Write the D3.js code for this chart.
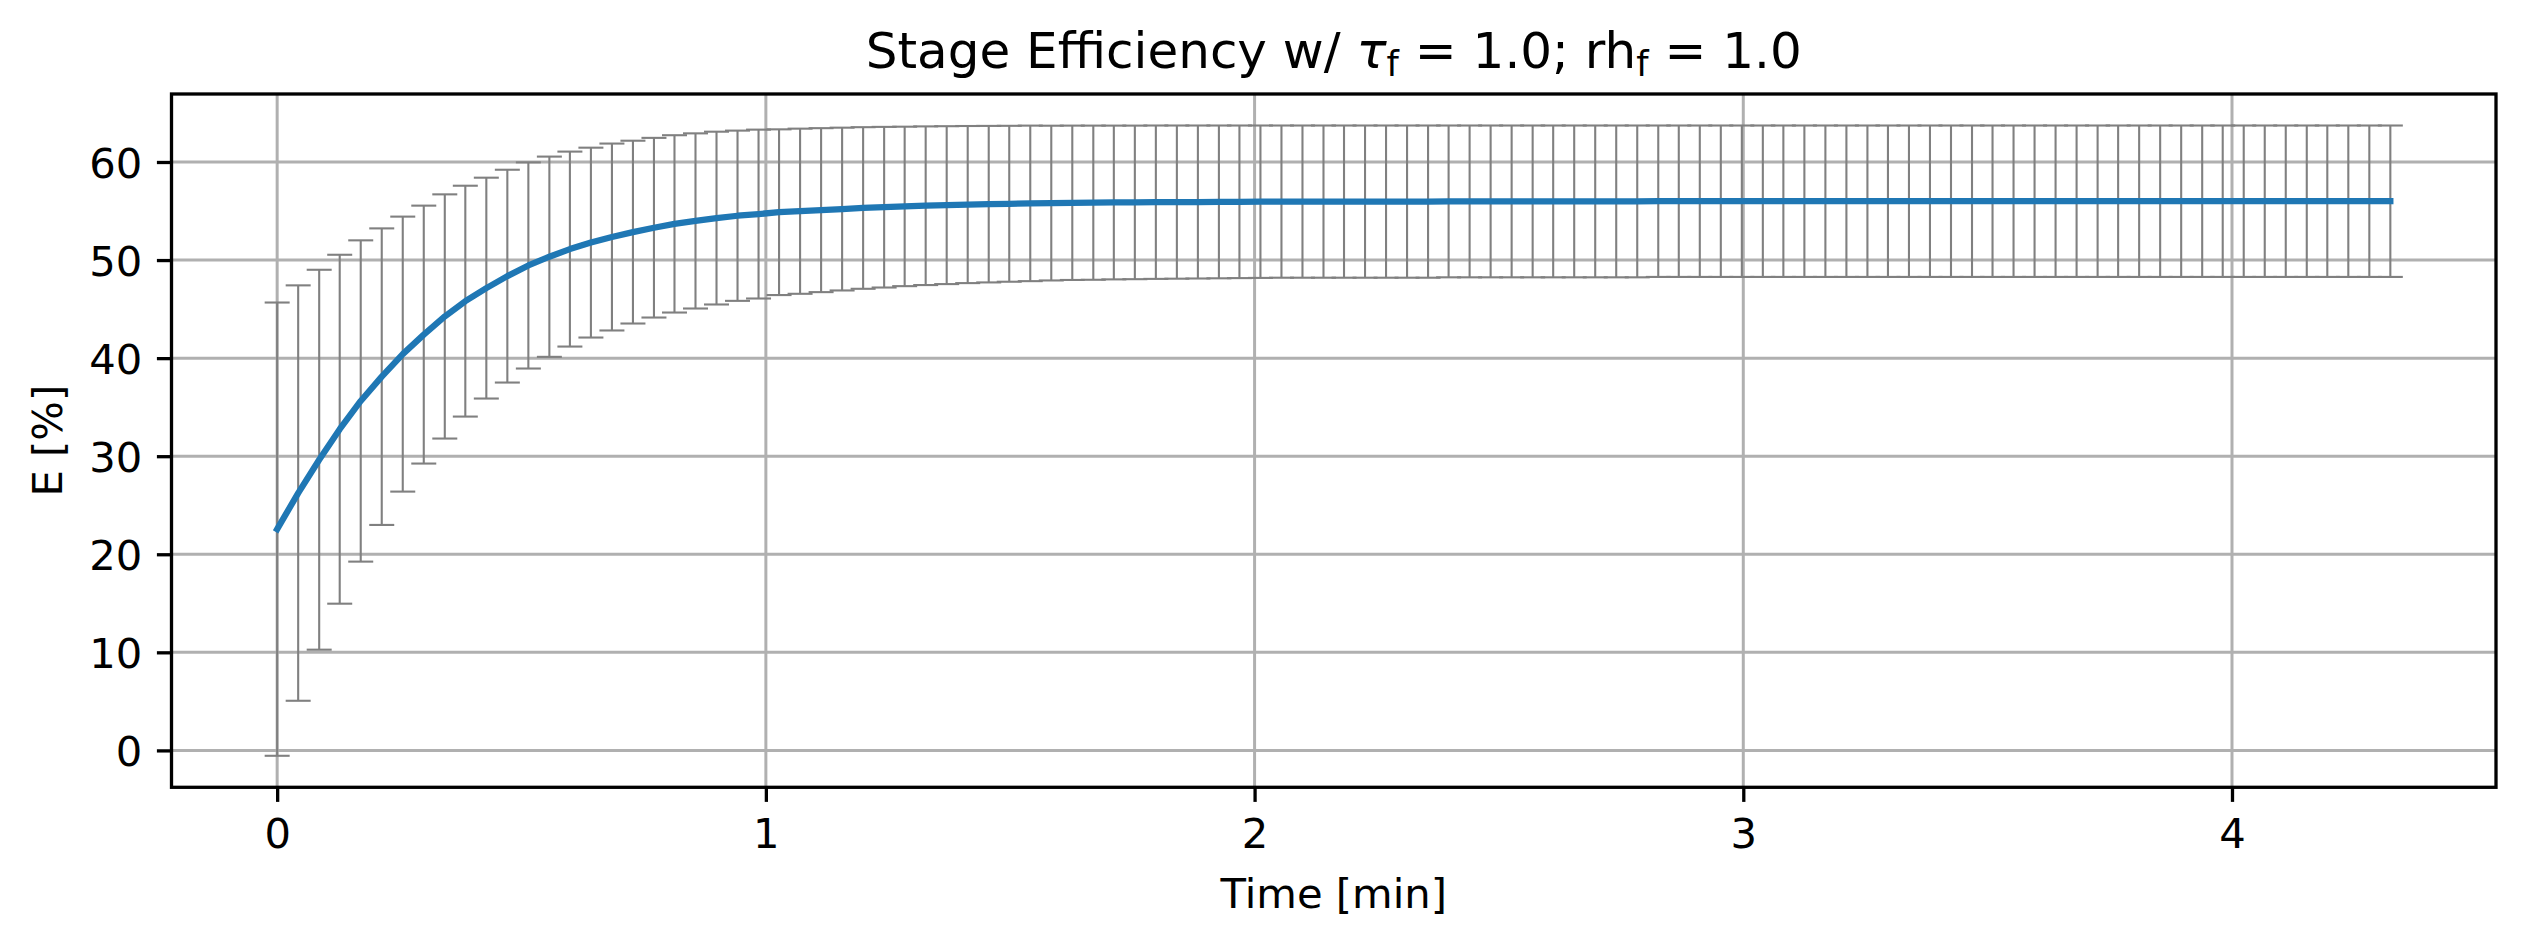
<!DOCTYPE html>
<html lang="en">
<head>
  <meta charset="utf-8">
  <title>Stage Efficiency</title>
  <script src="https://cdn.jsdelivr.net/npm/d3@7"></script>
  <style>
    body { margin: 0; background: #fff; }
    text { font-family: "DejaVu Sans", sans-serif; fill: #000; }
  </style>
</head>
<body>
  <div id="chart"></div>
  <script>
    // time points [min] of each error bar
    var time = [0, 0.043, 0.086, 0.128, 0.171, 0.214, 0.257, 0.300, 0.343, 0.385,
      0.428, 0.471, 0.514, 0.557, 0.599, 0.642, 0.685, 0.728, 0.771, 0.813,
      0.856, 0.899, 0.942, 0.985, 1.027, 1.070, 1.113, 1.156, 1.199, 1.242,
      1.284, 1.327, 1.370, 1.413, 1.456, 1.498, 1.541, 1.584, 1.627, 1.670,
      1.712, 1.755, 1.798, 1.841, 1.884, 1.927, 1.969, 2.012, 2.055, 2.098,
      2.141, 2.183, 2.226, 2.269, 2.312, 2.355, 2.397, 2.440, 2.483, 2.526,
      2.569, 2.611, 2.654, 2.697, 2.740, 2.783, 2.826, 2.868, 2.911, 2.954,
      2.997, 3.040, 3.082, 3.125, 3.168, 3.211, 3.254, 3.296, 3.339, 3.382,
      3.425, 3.468, 3.510, 3.553, 3.596, 3.639, 3.682, 3.725, 3.767, 3.810,
      3.853, 3.896, 3.939, 3.981, 4.024, 4.067, 4.110, 4.153, 4.195, 4.238,
      4.281, 4.324];

    // stage efficiency E [%]
    var efficiency = [22.56, 26.24, 29.64, 32.75, 35.63, 38.11, 40.41, 42.40, 44.25, 45.81,
      47.14, 48.36, 49.45, 50.34, 51.12, 51.78, 52.35, 52.85, 53.30, 53.69,
      53.99, 54.28, 54.52, 54.69, 54.88, 54.98, 55.09, 55.20, 55.31, 55.39,
      55.47, 55.54, 55.60, 55.66, 55.70, 55.74, 55.78, 55.81, 55.84, 55.85,
      55.87, 55.88, 55.90, 55.91, 55.92, 55.93, 55.94, 55.95, 55.96, 55.96,
      55.96, 55.96, 55.96, 55.96, 55.96, 55.96, 55.98, 55.98, 55.98, 55.98,
      55.98, 55.98, 55.98, 55.98, 55.98, 55.98, 56.00, 56.00, 56.00, 56.00,
      56.00, 56.00, 56.00, 56.00, 56.00, 56.00, 56.00, 56.00, 56.00, 56.00,
      56.00, 56.00, 56.00, 56.00, 56.00, 56.00, 56.00, 56.00, 56.00, 56.00,
      56.00, 56.00, 56.00, 56.00, 56.00, 56.00, 56.00, 56.00, 56.00, 56.00,
      56.00, 56.00];

    // half width of the error bars
    var errors = [23.11, 21.18, 19.37, 17.79, 16.38, 15.12, 14.02, 13.15, 12.45, 11.77,
      11.26, 10.85, 10.51, 10.21, 9.94, 9.68, 9.53, 9.32, 9.16, 9.04,
      8.93, 8.81, 8.68, 8.61, 8.45, 8.42, 8.36, 8.30, 8.24, 8.19,
      8.13, 8.09, 8.05, 8.01, 7.98, 7.95, 7.93, 7.89, 7.87, 7.86,
      7.84, 7.83, 7.82, 7.81, 7.80, 7.79, 7.78, 7.77, 7.76, 7.76,
      7.76, 7.76, 7.76, 7.76, 7.76, 7.76, 7.74, 7.74, 7.74, 7.74,
      7.74, 7.74, 7.74, 7.74, 7.74, 7.74, 7.72, 7.72, 7.72, 7.72,
      7.72, 7.72, 7.72, 7.72, 7.72, 7.72, 7.72, 7.72, 7.72, 7.72,
      7.72, 7.72, 7.72, 7.72, 7.72, 7.72, 7.72, 7.72, 7.72, 7.72,
      7.72, 7.72, 7.72, 7.72, 7.72, 7.72, 7.72, 7.72, 7.72, 7.72,
      7.72, 7.72];

    var xTicks = [0, 1, 2, 3, 4];
    var yTicks = [0, 10, 20, 30, 40, 50, 60];

    var w = 2525;
    var h = 947;
    // plot area edges (px)
    var axLeft = 171.5, axRight = 2496, axTop = 94, axBottom = 787.3;
    var tickLen = 14.6;

    var dataset = time.map(function(t, i) {
      return { t: t, e: efficiency[i], err: errors[i] };
    });

    // matplotlib style 5% margins
    var xExt = d3.extent(time);
    var xPad = 0.05 * (xExt[1] - xExt[0]);
    var yMin = d3.min(dataset, (d) => d.e - d.err);
    var yMax = d3.max(dataset, (d) => d.e + d.err);
    var yPad = 0.05 * (yMax - yMin);

    var xScale = d3.scaleLinear().domain([xExt[0] - xPad, xExt[1] + xPad]).range([axLeft, axRight]);
    var yScale = d3.scaleLinear().domain([yMin - yPad, yMax + yPad]).range([axBottom, axTop]);

    var svg = d3.select("#chart").append("svg")
      .attr("width", w)
      .attr("height", h);

    svg.append("rect").attr("width", w).attr("height", h).attr("fill", "#fff");

    // grid
    var grid = svg.append("g").attr("stroke", "#b0b0b0").attr("stroke-width", 3);
    grid.selectAll(".gx").data(xTicks).enter().append("line")
      .attr("x1", (d) => xScale(d)).attr("x2", (d) => xScale(d))
      .attr("y1", axTop).attr("y2", axBottom);
    grid.selectAll(".gy").data(yTicks).enter().append("line")
      .attr("x1", axLeft).attr("x2", axRight)
      .attr("y1", (d) => yScale(d)).attr("y2", (d) => yScale(d));

    // error bars
    var eb = svg.append("g").attr("stroke", "#808080").attr("stroke-width", 2.1);
    eb.selectAll(".bar").data(dataset).enter().append("line")
      .attr("x1", (d) => xScale(d.t)).attr("x2", (d) => xScale(d.t))
      .attr("y1", (d) => yScale(d.e - d.err)).attr("y2", (d) => yScale(d.e + d.err));
    eb.selectAll(".capLow").data(dataset).enter().append("line")
      .attr("x1", (d) => xScale(d.t) - 12.5).attr("x2", (d) => xScale(d.t) + 12.5)
      .attr("y1", (d) => yScale(d.e - d.err)).attr("y2", (d) => yScale(d.e - d.err));
    eb.selectAll(".capHigh").data(dataset).enter().append("line")
      .attr("x1", (d) => xScale(d.t) - 12.5).attr("x2", (d) => xScale(d.t) + 12.5)
      .attr("y1", (d) => yScale(d.e + d.err)).attr("y2", (d) => yScale(d.e + d.err));

    // mean line
    var line = d3.line().x((d) => xScale(d.t)).y((d) => yScale(d.e));
    svg.append("path").datum(dataset)
      .attr("d", line)
      .attr("fill", "none")
      .attr("stroke", "#1f77b4")
      .attr("stroke-width", 6.25)
      .attr("stroke-linecap", "square")
      .attr("stroke-linejoin", "round");

    // axes
    var xAxis = d3.axisBottom(xScale).tickValues(xTicks).tickFormat(d3.format("d"))
      .tickSizeInner(tickLen).tickSizeOuter(0).tickPadding(tickLen);
    var yAxis = d3.axisLeft(yScale).tickValues(yTicks).tickFormat(d3.format("d"))
      .tickSizeInner(tickLen).tickSizeOuter(0).tickPadding(tickLen);

    var gx = svg.append("g").attr("transform", "translate(0," + axBottom + ")").call(xAxis);
    var gy = svg.append("g").attr("transform", "translate(" + axLeft + ",0)").call(yAxis);
    [gx, gy].forEach(function(g) {
      g.select(".domain").remove();
      g.selectAll(".tick line").attr("stroke", "#000").attr("stroke-width", 3.3);
      g.selectAll(".tick text").attr("font-size", 41.7).attr("font-family", "DejaVu Sans").attr("fill", "#000");
    });
    gx.selectAll(".tick text").attr("dy", "0.76em");
    gy.selectAll(".tick text").attr("dy", "0.36em");

    // frame
    svg.append("rect")
      .attr("x", axLeft).attr("y", axTop)
      .attr("width", axRight - axLeft).attr("height", axBottom - axTop)
      .attr("fill", "none").attr("stroke", "#000").attr("stroke-width", 3.3);

    // labels
    svg.append("text")
      .attr("x", (axLeft + axRight) / 2).attr("y", 908)
      .attr("text-anchor", "middle").attr("font-size", 41.7)
      .text("Time [min]");

    svg.append("text")
      .attr("transform", "translate(62," + (axTop + axBottom) / 2 + ") rotate(-90)")
      .attr("text-anchor", "middle").attr("font-size", 41.7)
      .text("E [%]");

    var title = svg.append("text")
      .attr("x", (axLeft + axRight) / 2).attr("y", 68)
      .attr("text-anchor", "middle").attr("font-size", 50);
    title.append("tspan").text("Stage Efficiency w/ ");
    title.append("tspan").attr("font-style", "italic").text("τ");
    title.append("tspan").attr("font-size", 35).attr("dy", 8).text("f");
    title.append("tspan").attr("dy", -8).text(" = 1.0; rh");
    title.append("tspan").attr("font-size", 35).attr("dy", 8).text("f");
    title.append("tspan").attr("dy", -8).text(" = 1.0");
  </script>
</body>
</html>
